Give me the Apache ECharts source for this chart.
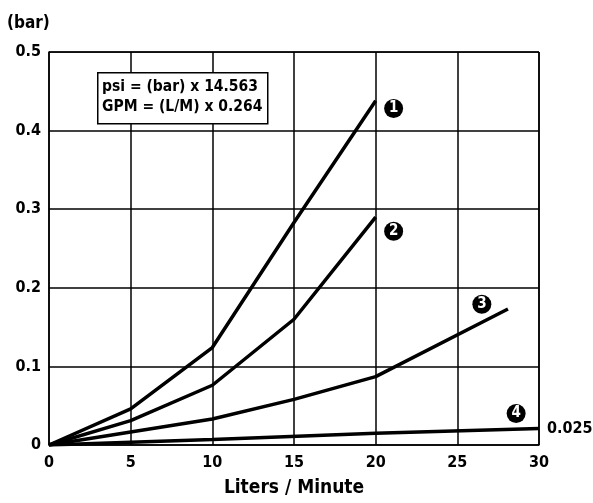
<!DOCTYPE html>
<html><head><meta charset="utf-8">
<script src="https://cdn.jsdelivr.net/npm/echarts@6/dist/echarts.min.js"></script>
<style>html,body{margin:0;padding:0;background:#fff}#c{width:593px;height:503px}</style>
</head><body><div id="c"></div>
<script>
var xTicks = [0, 5, 10, 15, 20, 25, 30];
var yTicks = [0, 0.1, 0.2, 0.3, 0.4, 0.5];
var curve1 = [[0,0],[5,0.046],[10,0.124],[15,0.283],[20,0.438]];
var curve2 = [[0,0],[5,0.031],[10,0.076],[15,0.160],[20,0.290]];
var curve3 = [[0,0],[10,0.033],[15,0.058],[20,0.087],[28.1,0.173]];
var curve4 = [[0,0],[10,0.007],[20,0.015],[30,0.021]];
var curveTags = [[21.1,0.428,'1'],[21.1,0.272,'2'],[26.5,0.179,'3'],[28.6,0.040,'4']];
var endValueLabel = '0.025';
var conversionText = 'psi = (bar) x 14.563\nGPM = (L/M) x 0.264';

var FONT = '"DejaVu Sans Condensed", "Liberation Sans Narrow", "Liberation Sans", Arial, sans-serif';
var chart = echarts.init(document.getElementById('c'));
function lineSeries(d, extra) {
  var s = {type:'line', data:d, showSymbol:false, symbol:'none', animation:false,
    lineStyle:{color:'#000', width:3.5}, z:3};
  return Object.assign(s, extra||{});
}
chart.setOption({
  animation:false,
  grid:{left:49, right:54, top:52, bottom:58},
  xAxis:{type:'value', min:0, max:30, interval:5,
    name:'Liters / Minute', nameLocation:'middle', nameGap:34,
    nameTextStyle:{fontFamily:FONT, fontWeight:'bold', fontSize:19, color:'#000'},
    axisLine:{show:true, lineStyle:{color:'#000', width:1.5}},
    axisTick:{show:false},
    axisLabel:{fontFamily:FONT, fontWeight:'bold', fontSize:16, color:'#000', margin:10},
    splitLine:{show:true, lineStyle:{color:'#000', width:1.5}}},
  yAxis:{type:'value', min:0, max:0.5, interval:0.1,
    name:'(bar)', nameLocation:'end', nameGap:20,
    nameTextStyle:{fontFamily:FONT, fontWeight:'bold', fontSize:17, color:'#000', align:'left', padding:[0,0,0,-42]},
    axisLine:{show:true, lineStyle:{color:'#000', width:1.5}},
    axisTick:{show:false},
    axisLabel:{fontFamily:FONT, fontWeight:'bold', fontSize:16, color:'#000', margin:8},
    splitLine:{show:true, lineStyle:{color:'#000', width:1.5}}},
  series:[
    {type:'line', data:[[30,0],[30,0.5]], symbol:'none', lineStyle:{color:'#000', width:1.5}, silent:true, z:2},
    {type:'line', data:[[0,0.5],[30,0.5]], symbol:'none', lineStyle:{color:'#000', width:1.5}, silent:true, z:2},
    lineSeries(curve1),
    lineSeries(curve2),
    lineSeries(curve3),
    lineSeries(curve4, {endLabel:{show:true, distance:8, formatter:endValueLabel,
      fontFamily:FONT, fontWeight:'bold', fontSize:16, color:'#000'}}),
    {type:'scatter', data:curveTags.map(function(t){return {value:[t[0],t[1]], name:t[2]};}),
      symbol:'circle', symbolSize:19, itemStyle:{color:'#000', opacity:1}, z:5,
      label:{show:true, position:'inside', formatter:'{b}', color:'#fff', fontFamily:FONT, fontWeight:'bold', fontSize:15}}
  ],
  graphic:[
    {type:'rect', left:97, top:72, shape:{width:170, height:51},
      style:{fill:'#fff', stroke:'#000', lineWidth:1.5}, z:10},
    {type:'text', left:102, top:77, z:11,
      style:{text:conversionText, fontFamily:FONT, fontWeight:'bold', fontSize:15.5, lineHeight:20, fill:'#000'}}
  ]
});
</script></body></html>
